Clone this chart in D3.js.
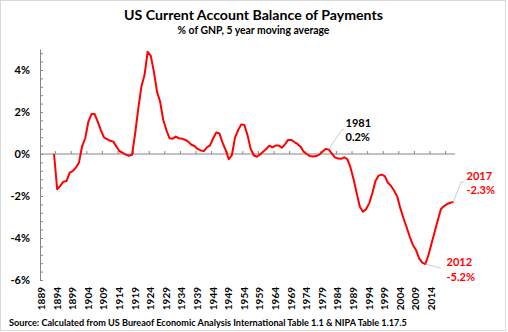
<!DOCTYPE html>
<html><head><meta charset="utf-8">
<script src="https://cdn.jsdelivr.net/npm/d3@7"></script>
<style>
html,body{margin:0;padding:0;background:#fff;}
text{font-family:Lato,"Open Sans",sans-serif;font-weight:bold;}
</style></head>
<body>
<svg id="c" width="508" height="332"></svg>
<script>
// ---- data ----
const firstCategory = 1889;
const lastCategory = 2021;
const seriesStartYear = 1893;
const values = [
 0.00,-1.68,-1.52,-1.32,-1.29,-0.89,-0.81,-0.65,-0.40,0.38,
 0.75,1.54,1.90,1.90,1.54,1.14,0.79,0.71,0.63,0.59,
 0.35,0.13,0.06,-0.03,-0.08,-0.04,0.98,2.17,3.21,3.76,
 4.87,4.67,3.92,2.97,2.49,1.62,1.14,0.75,0.73,0.83,
 0.75,0.73,0.68,0.59,0.44,0.38,0.24,0.17,0.14,0.32,
 0.41,0.75,1.02,0.98,0.54,0.19,-0.25,-0.05,0.78,1.14,
 1.41,1.38,0.90,0.25,-0.06,-0.13,-0.02,0.11,0.24,0.40,
 0.32,0.40,0.41,0.30,0.46,0.67,0.67,0.57,0.48,0.35,
 0.11,0.00,-0.10,-0.12,-0.10,-0.03,0.11,0.24,0.22,0.03,
 -0.16,-0.22,-0.23,-0.16,-0.24,-0.64,-1.20,-1.87,-2.51,-2.75,
 -2.63,-2.35,-1.87,-1.29,-1.03,-0.98,-1.05,-1.37,-1.52,-1.75,
 -2.03,-2.59,-3.06,-3.49,-3.94,-4.33,-4.57,-4.97,-5.17,-5.24,
 -4.81,-4.25,-3.70,-3.14,-2.62,-2.48,-2.38,-2.32,-2.28
];
const xTickLabels = [1889,1894,1899,1904,1909,1914,1919,1924,1929,1934,1939,1944,1949,1954,1959,1964,1969,1974,1979,1984,1989,1994,1999,2004,2009,2014];
const xTickMarks = [1894,1899,1904,1909,1914,1919,1924,1929,1934,1939,1944,1949,1954,1959,1964,1969,1974,1979,1984,1989,1994,1999,2004,2009,2014,2019];
const yTickLabels = [-6,-4,-2,0,2,4];
const yMinorTicks = d3.range(0,28).map(k => +(-6 + 0.4*k).toFixed(1));
const annotations = [
  {year:1981, lines:["1981","0.2%"], color:"#000"},
  {year:2012, lines:["2012","-5.2%"], color:"#ff0000"},
  {year:2021, lines:["2017","-2.3%"], color:"#ff0000"}
];
const title = "US Current Account Balance of Payments";
const subtitle = "% of GNP, 5 year moving average";
const source = "Source: Calculated from US Bureaof Economic Analysis International Table 1.1 & NIPA Table 1.17.5";

const categories = d3.range(firstCategory, lastCategory+1);
const series = values.map((v,i)=>({year:seriesStartYear+i, v}));

const svg = d3.select("#c");
svg.append("rect").attr("x",0.5).attr("y",0.5).attr("width",505).attr("height",330)
  .attr("fill","#fff").attr("stroke","#d9d9d9");

const x = d3.scaleBand().domain(categories).range([40,455]).padding(0);
const cx = d => x(d) + x.bandwidth()/2;
const y = d3.scaleLinear().domain([-6,5]).range([280,49]);

function fit(sel, w){
  const node = sel.node();
  let fs = parseFloat(sel.attr("font-size"));
  const cur = node.getComputedTextLength();
  sel.attr("font-size", (fs*w/cur).toFixed(2));
}

// titles
fit(svg.append("text").attr("x",253.5).attr("y",20).attr("text-anchor","middle")
  .attr("font-size",15).text(title), 259);
fit(svg.append("text").attr("x",253.5).attr("y",34).attr("text-anchor","middle")
  .attr("font-size",11).text(subtitle), 152);
fit(svg.append("text").attr("x",9).attr("y",326).attr("font-size",10).text(source), 398);

// y axis labels
const yl = svg.append("g").attr("transform","translate(40,0)")
  .call(d3.axisLeft(y).tickValues(yTickLabels).tickFormat(d=>d+"%").tickSize(0).tickPadding(10));
yl.select(".domain").remove();
yl.selectAll("text").attr("font-size",11).attr("font-family","Lato,sans-serif").attr("font-weight","bold").attr("fill","#000");

// y axis line with minor ticks (inside)
const ya = svg.append("g").attr("transform","translate(40,0)")
  .call(d3.axisRight(y).tickValues(yMinorTicks).tickSize(3).tickSizeOuter(0).tickFormat(""));
ya.selectAll("path,line").attr("stroke","#868686");

// zero line with category tick marks
svg.append("line").attr("x1",x.range()[0]).attr("x2",x.range()[1]).attr("y1",y(0)).attr("y2",y(0))
  .attr("stroke","#868686");
svg.append("g").selectAll("line").data(xTickMarks).join("line")
  .attr("x1",d=>x(d)).attr("x2",d=>x(d)).attr("y1",y(0)).attr("y2",y(0)-3)
  .attr("stroke","#868686");

// x labels rotated at bottom
svg.append("g").selectAll("text").data(xTickLabels).join("text")
  .attr("transform",d=>`translate(${cx(d)},287) rotate(-90)`)
  .attr("text-anchor","end").attr("dy","0.35em").attr("font-size",10).text(d=>d);

// line
svg.append("path").datum(series)
  .attr("d", d3.line().x(d=>cx(d.year)).y(d=>y(d.v)))
  .attr("fill","none").attr("stroke","#ff0000").attr("stroke-width",2).attr("stroke-linejoin","round");

// annotations
const annLayout = {
  1981:{bend:[342,129.5], end:[344.5,129.5], tx:345.5, ty:[127,141]},
  2012:{bend:[440,268], end:[441,268], tx:446.5, ty:[266,281]},
  2021:{bend:[461,182], end:[464,182], tx:466.5, ty:[180,194]}
};
annotations.forEach(a=>{
  const p = series.find(s=>s.year===a.year);
  const L = annLayout[a.year];
  svg.append("path").attr("d", d3.line()([[cx(p.year), y(p.v)], L.bend, L.end]))
    .attr("fill","none").attr("stroke","#bfbfbf").attr("stroke-width",0.8);
  a.lines.forEach((t,i)=>{
    svg.append("text").attr("x",L.tx).attr("y",L.ty[i]).attr("font-size",11)
      .attr("fill",a.color).text(t);
  });
});
</script>
</body></html>
